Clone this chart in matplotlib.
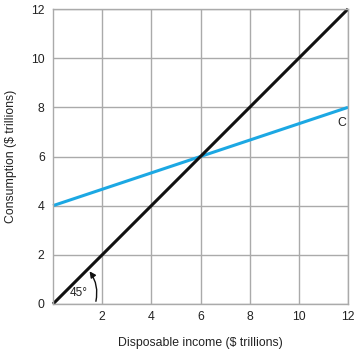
import matplotlib
matplotlib.use("Agg")
import matplotlib.pyplot as plt

plt.rcParams['font.family'] = ['Liberation Sans', 'DejaVu Sans']

x_line = [0, 12]
y_45 = [0, 12]
y_c = [4, 8]
xticks = [2, 4, 6, 8, 10, 12]
xticklabels = ['2', '4', '6', '8', '10', '12']
yticks = [0, 2, 4, 6, 8, 10, 12]

fig = plt.figure(figsize=(3.59, 3.57), dpi=100)
ax = fig.add_axes([53/359, 1-304/357, 295/359, 295/357])
ax.set_xlim(0, 12)
ax.set_ylim(0, 12)
ax.set_xticks(xticks)
ax.set_xticklabels(xticklabels)
ax.set_yticks(yticks)
ax.grid(True, color='#aaaaaa', linewidth=1.0)
ax.set_axisbelow(True)
for s in ax.spines.values():
    s.set_color('#aaaaaa')
    s.set_linewidth(1.0)
ax.tick_params(length=0, labelsize=8.8, colors='#222222', pad=6)
ax.tick_params(axis='x', pad=5)

ax.plot(x_line, y_c, color='#1ca8e3', linewidth=2.2, solid_capstyle='butt', clip_on=False)
ax.plot(x_line, y_45, color='#111111', linewidth=2.2, solid_capstyle='butt', clip_on=False)

ax.text(11.55, 7.35, 'C', fontsize=8.8, color='#222222', ha='left', va='center')
ax.text(1.05, 0.45, '45°', fontsize=8.5, color='#222222', ha='center', va='center')
ax.annotate('', xy=(1.42, 1.42), xytext=(1.72, 0.0),
            arrowprops=dict(arrowstyle='-|>', color='#111111', lw=1.0,
                            connectionstyle='arc3,rad=0.25', mutation_scale=9))

ax.set_xlabel('Disposable income ($ trillions)', fontsize=8.8, color='#222222', labelpad=10)
ax.set_ylabel('Consumption ($ trillions)', fontsize=8.8, color='#222222', labelpad=10)

fig.savefig('out.png', dpi=100)
